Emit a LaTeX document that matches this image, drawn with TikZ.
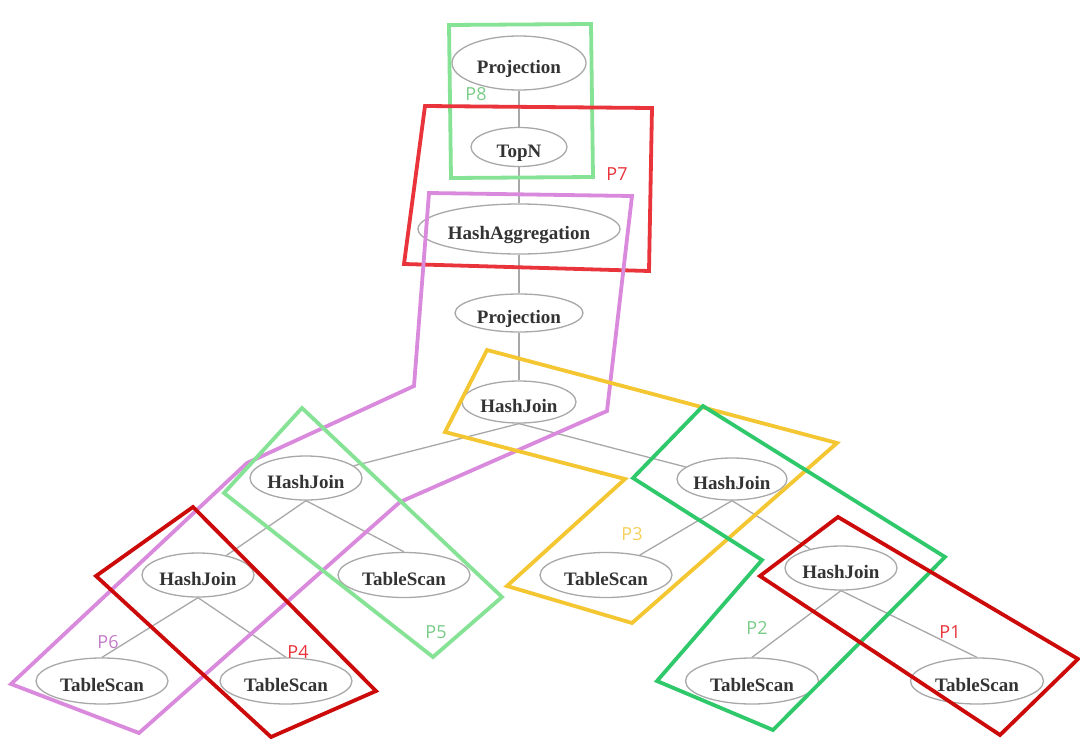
\documentclass[tikz,border=0pt]{standalone}
\usepackage{fontspec}
\usetikzlibrary{shapes.geometric}
\setmainfont{Liberation Serif}
\newfontfamily\partfont{Open Sans}
\definecolor{edgegray}{HTML}{A8A8A8}
\definecolor{textgray}{HTML}{333333}
\definecolor{lightgreen}{HTML}{86E396}
\definecolor{midgreen}{HTML}{2FC86B}
\definecolor{brightred}{HTML}{E8343A}
\definecolor{darkred}{HTML}{CC0A0A}
\definecolor{orchid}{HTML}{DA8ADD}
\definecolor{gold}{HTML}{F4C631}
\begin{document}
\begin{tikzpicture}[x=1pt,y=-1pt,
  op/.style={ellipse,draw=edgegray,line width=1.3pt,fill=white,inner sep=0pt,
    text height=20pt,text depth=0pt,
    text=textgray,font=\fontsize{19}{22}\selectfont\bfseries},
  edge/.style={color=edgegray,line width=1.3pt},
  part/.style={line width=3.8pt,line join=miter},
  partlabel/.style={font=\partfont\fontsize{18}{20}\selectfont}]
\useasboundingbox (0,0) rectangle (1080,739);
\fill[white] (0,0) rectangle (1080,739);
% operators
\node[op,minimum width=134pt,minimum height=54pt] (proj1) at (519,63) {Projection};
\node[op,minimum width=96pt,minimum height=39pt] (topn) at (519,147) {TopN};
\node[op,minimum width=202pt,minimum height=50pt] (hashagg) at (519,229) {HashAggregation};
\node[op,minimum width=128pt,minimum height=38pt] (proj2) at (519,313) {Projection};
\node[op,minimum width=114pt,minimum height=42pt] (hj1) at (519,402) {HashJoin};
\node[op,minimum width=112pt,minimum height=44pt] (hj2) at (306,478) {HashJoin};
\node[op,minimum width=112pt,minimum height=44pt] (hj3) at (198,575) {HashJoin};
\node[op,minimum width=132pt,minimum height=45pt] (ts1) at (404,575) {TableScan};
\node[op,minimum width=132pt,minimum height=46pt] (ts2) at (102,681) {TableScan};
\node[op,minimum width=132pt,minimum height=46pt] (ts3) at (286,681) {TableScan};
\node[op,minimum width=110pt,minimum height=42pt] (hj4) at (732,479) {HashJoin};
\node[op,minimum width=132pt,minimum height=45pt] (ts4) at (606,575) {TableScan};
\node[op,minimum width=112pt,minimum height=44pt] (hj5) at (841,568) {HashJoin};
\node[op,minimum width=133pt,minimum height=46pt] (ts5) at (752,681) {TableScan};
\node[op,minimum width=133pt,minimum height=46pt] (ts6) at (977,681) {TableScan};
% tree edges
\draw[edge] (proj1) -- (topn);
\draw[edge] (topn) -- (hashagg);
\draw[edge] (hashagg) -- (proj2);
\draw[edge] (proj2) -- (hj1);
\draw[edge] (hj1.south) -- (hj2);
\draw[edge] (hj1.south) -- (hj4);
\draw[edge] (hj2.south) -- (hj3);
\draw[edge] (hj2.south) -- (ts1.north);
\draw[edge] (hj3.south) -- (ts2.north);
\draw[edge] (hj3.south) -- (ts3.north);
\draw[edge] (hj4.south) -- (ts4);
\draw[edge] (hj4.south) -- (hj5);
\draw[edge] (hj5.south) -- (ts5.north);
\draw[edge] (hj5.south) -- (ts6.north);
% pipelines
\draw[part,color=lightgreen] (449,25)--(591,24)--(593,177)--(451,178)--cycle;
\draw[part,color=brightred] (425,106)--(652,108)--(649,271)--(404,264)--cycle;
\draw[part,color=orchid] (429,193)--(632,196)--(607,411)--(400,502)--(139,733)--(11,684)--(247,463)--(414,386)--cycle;
\draw[part,color=gold] (487,350)--(837,443)--(632,623)--(507,586)--(625,479)--(445,432)--cycle;
\draw[part,color=lightgreen] (302,408)--(502,597)--(433,657)--(224,493)--cycle;
\draw[part,color=midgreen] (703,406)--(945,557)--(773,730)--(657,681)--(762,560)--(633,478)--cycle;
\draw[part,color=darkred] (193,507)--(376,691)--(271,737)--(96,576)--cycle;
\draw[part,color=darkred] (838,517)--(1078,659)--(1000,735)--(760,576)--cycle;
% labels
\node[partlabel,color=lightgreen!90!black] (l8) at (476,94) {P8};
\node[partlabel,color=brightred] (l7) at (617,174) {P7};
\node[partlabel,color=orchid!90!black] (l6) at (108,642) {P6};
\node[partlabel,color=lightgreen!90!black] (l5) at (436,632) {P5};
\node[partlabel,color=brightred] (l4) at (298,652) {P4};
\node[partlabel,color=gold!80!white] (l3) at (632,534) {P3};
\node[partlabel,color=lightgreen!90!black] (l2) at (757,628) {P2};
\node[partlabel,color=brightred] (l1) at (950,632) {P1};
\end{tikzpicture}
\end{document}
